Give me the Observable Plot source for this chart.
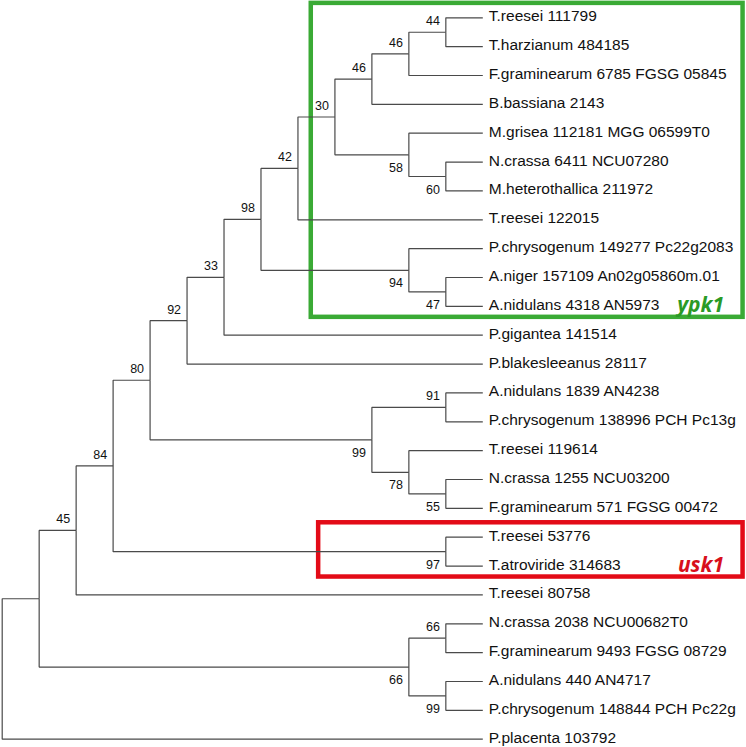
<!DOCTYPE html>
<html>
<head>
<meta charset="utf-8">
<script src="https://cdn.jsdelivr.net/npm/d3@7"></script>
<script src="https://cdn.jsdelivr.net/npm/@observablehq/plot@0.6"></script>
<style>
  html, body { margin: 0; padding: 0; background: #fff; }
  #chart svg { display: block; }
</style>
</head>
<body>
<div id="chart"></div>
<script>
// Leaves (top to bottom)
const leaves = [
  "T.reesei 111799",
  "T.harzianum 484185",
  "F.graminearum 6785 FGSG 05845",
  "B.bassiana 2143",
  "M.grisea 112181 MGG 06599T0",
  "N.crassa 6411 NCU07280",
  "M.heterothallica 211972",
  "T.reesei 122015",
  "P.chrysogenum 149277 Pc22g2083",
  "A.niger 157109 An02g05860m.01",
  "A.nidulans 4318 AN5973",
  "P.gigantea 141514",
  "P.blakesleeanus 28117",
  "A.nidulans 1839 AN4238",
  "P.chrysogenum 138996 PCH Pc13g",
  "T.reesei 119614",
  "N.crassa 1255 NCU03200",
  "F.graminearum 571 FGSG 00472",
  "T.reesei 53776",
  "T.atroviride 314683",
  "T.reesei 80758",
  "N.crassa 2038 NCU00682T0",
  "F.graminearum 9493 FGSG 08729",
  "A.nidulans 440 AN4717",
  "P.chrysogenum 148844 PCH Pc22g",
  "P.placenta 103792"
];

// Clades: [id, upper child, lower child, bootstrap support]
const clades = [
  ["c44",  "T.reesei 111799", "T.harzianum 484185", 44],
  ["c46a", "c44", "F.graminearum 6785 FGSG 05845", 46],
  ["c46b", "c46a", "B.bassiana 2143", 46],
  ["c60",  "N.crassa 6411 NCU07280", "M.heterothallica 211972", 60],
  ["c58",  "M.grisea 112181 MGG 06599T0", "c60", 58],
  ["c30",  "c46b", "c58", 30],
  ["c42",  "c30", "T.reesei 122015", 42],
  ["c47",  "A.niger 157109 An02g05860m.01", "A.nidulans 4318 AN5973", 47],
  ["c94",  "P.chrysogenum 149277 Pc22g2083", "c47", 94],
  ["c98",  "c42", "c94", 98],
  ["c33",  "c98", "P.gigantea 141514", 33],
  ["c92",  "c33", "P.blakesleeanus 28117", 92],
  ["c91",  "A.nidulans 1839 AN4238", "P.chrysogenum 138996 PCH Pc13g", 91],
  ["c55",  "N.crassa 1255 NCU03200", "F.graminearum 571 FGSG 00472", 55],
  ["c78",  "T.reesei 119614", "c55", 78],
  ["c99a", "c91", "c78", 99],
  ["c80",  "c92", "c99a", 80],
  ["c97",  "T.reesei 53776", "T.atroviride 314683", 97],
  ["c84",  "c80", "c97", 84],
  ["c45",  "c84", "T.reesei 80758", 45],
  ["c66a", "N.crassa 2038 NCU00682T0", "F.graminearum 9493 FGSG 08729", 66],
  ["c99b", "A.nidulans 440 AN4717", "P.chrysogenum 148844 PCH Pc22g", 99],
  ["c66b", "c66a", "c99b", 66],
  ["cX",   "c45", "c66b", null],
  ["root", "cX", "P.placenta 103792", null]
];

// Highlighted gene groups: label, colour, first/last leaf, left edge (tree level)
const groupNames  = ["ypk1", "usk1"];
const groupColors = ["#3aaa35", "#e30b17"];
const groupText   = ["#2a9a26", "#d8101c"];
const groupFirst  = ["T.reesei 111799", "T.reesei 53776"];
const groupLast   = ["A.nidulans 4318 AN5973", "T.atroviride 314683"];
const groupLeft   = [8.36, 8.56];

// ---- build hierarchy ----
const cladeMap = new Map(clades.map(c => [c[0], c]));
function build(id) {
  const c = cladeMap.get(id);
  if (!c) return {name: id};
  return {name: id, support: c[3], children: [build(c[1]), build(c[2])]};
}
const root = d3.hierarchy(build("root"));
const maxH = root.height;
let leafIdx = 0;
root.eachAfter(n => {
  n.px = maxH - n.height;
  if (!n.children) n.py = leafIdx++;
  else n.py = d3.mean(n.children, c => c.py);
});
const nodes = root.descendants();
const links = root.links().map(l => ({x1: l.source.px, y1: l.source.py, x2: l.target.px, y2: l.target.py}));
const leafNodes = nodes.filter(n => !n.children);
const supported = nodes.filter(n => n.children && n.data.support != null);
const supAbove = supported.filter(n => n.parent && n.parent.children[0] === n);
const supBelow = supported.filter(n => n.parent && n.parent.children[1] === n);

const leafPos = new Map(leafNodes.map(n => [n.data.name, n.py]));
const groups = groupNames.map((g, i) => ({
  name: g, color: groupColors[i], textColor: groupText[i],
  x1: groupLeft[i], x2: 20.04,
  y1: leafPos.get(groupFirst[i]) - 0.5,
  y2: leafPos.get(groupLast[i]) + 0.38
}));

const chart = Plot.plot({
  width: 746,
  height: 747,
  margin: 0,
  x: {domain: [0, maxH], range: [1.7, 482.3], axis: null},
  y: {domain: [0, leaves.length - 1], range: [17.3, 738.7], axis: null},
  style: {fontFamily: "'Liberation Sans', Arial, sans-serif", background: "#fff"},
  marks: [
    Plot.rect(groups, {x1: "x1", x2: "x2", y1: "y1", y2: "y2", fill: "none", stroke: "color", strokeWidth: 4.5}),
    Plot.link(links, {x1: "x1", y1: "y1", x2: "x2", y2: "y2", curve: "step-before", stroke: "#4a4a4a", strokeWidth: 1.2}),
    Plot.text(leafNodes, {x: "px", y: "py", text: d => d.data.name, textAnchor: "start", dx: 6, dy: -1.5, fontSize: 15.5, fill: "#111"}),
    Plot.text(supAbove, {x: "px", y: "py", text: d => String(d.data.support), textAnchor: "end", dx: -6, dy: -11, fontSize: 12.5, fill: "#111"}),
    Plot.text(supBelow, {x: "px", y: "py", text: d => String(d.data.support), textAnchor: "end", dx: -6, dy: 13, fontSize: 12.5, fill: "#111"}),
    Plot.text(groups, {x: "x2", y: "y2", text: "name", textAnchor: "end", dx: -19, dy: -12, fontSize: 21, fontWeight: "bold", fontStyle: "italic", fill: "textColor", fontFamily: "'Open Sans', sans-serif"})
  ]
});
document.getElementById("chart").append(chart);
</script>
</body>
</html>
